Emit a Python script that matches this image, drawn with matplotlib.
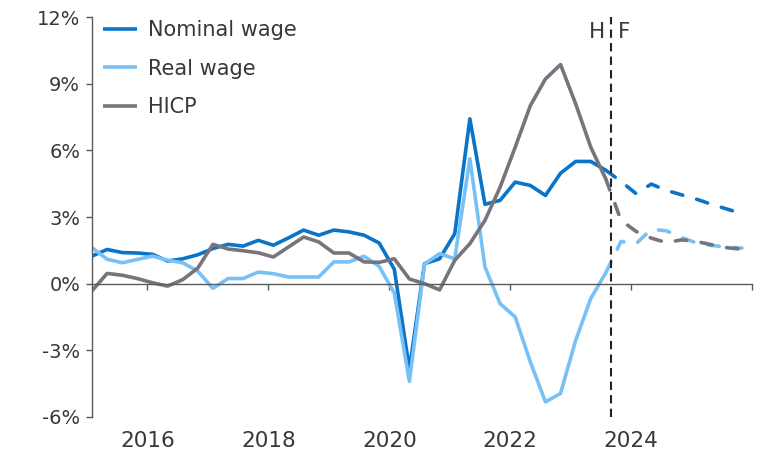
import numpy as np
import pandas as pd
import matplotlib
matplotlib.use("Agg")
import matplotlib.pyplot as plt
import matplotlib.ticker as ticker
import matplotlib.transforms as mtransforms

# Wage growth vs inflation, % y/y, quarterly 2015Q1-2025Q4
# history to 2023Q3, forecast from there on

QUARTERS = pd.period_range("2015Q1", "2025Q4", freq="Q")
LAST_HIST = "2023Q3"

nominal_hist = [1.24, 1.54, 1.40, 1.38, 1.32, 1.02, 1.12, 1.30, 1.58, 1.77,
                1.69, 1.95, 1.73, 2.06, 2.41, 2.18, 2.41, 2.33, 2.18, 1.83,
                0.65, -3.85, 0.90, 1.12, 2.25, 7.42, 3.57, 3.75, 4.57, 4.42,
                3.97, 4.97, 5.50, 5.50, 5.10]
real_hist = [1.62, 1.10, 0.94, 1.09, 1.24, 1.06, 0.94, 0.56, -0.21, 0.23,
             0.23, 0.52, 0.45, 0.30, 0.30, 0.30, 0.98, 0.98, 1.23, 0.78,
             -0.42, -4.40, 0.88, 1.35, 1.12, 5.62, 0.75, -0.90, -1.50, -3.52,
             -5.32, -4.94, -2.55, -0.67, 0.50]
hicp_hist = [-0.32, 0.46, 0.38, 0.23, 0.04, -0.11, 0.18, 0.70, 1.77, 1.56,
             1.48, 1.39, 1.20, 1.65, 2.10, 1.88, 1.38, 1.38, 0.98, 0.96,
             1.12, 0.21, 0.00, -0.28, 1.05, 1.80, 2.85, 4.34, 6.14, 8.01,
             9.21, 9.86, 8.09, 6.14, 4.70]

# forecast starts at the last historical quarter
nominal_fcst = [5.10, 4.60, 4.05, 4.48, 4.20, 4.00, 3.80, 3.57, 3.36, 3.15]
real_fcst = [0.50, 1.90, 1.80, 2.45, 2.38, 2.08, 1.83, 1.72, 1.65, 1.60]
hicp_fcst = [4.70, 2.85, 2.35, 2.05, 1.85, 1.97, 1.90, 1.75, 1.62, 1.55]

SERIES = [
    ("Nominal wage", nominal_hist, nominal_fcst, "#0a74c8"),
    ("Real wage", real_hist, real_fcst, "#77c1f6"),
    ("HICP", hicp_hist, hicp_fcst, "#76757d"),
]

YTICKS = [-6, -3, 0, 3, 6, 9, 12]
XTICK_YEARS = [2016, 2018, 2020, 2022, 2024, 2026]
XTICK_LABELS = ["2016", "2018", "2020", "2022", "2024", ""]
SPLIT_YEAR = 2023.667

TEXT = "#383838"
AXIS = "#5a5a5a"


def quarter_pos(periods):
    # quarterly points sit on the middle month of each quarter
    return np.array([p.year + (p.quarter - 1) / 4 + 1 / 12 for p in periods])


t = quarter_pos(QUARTERS)
n_hist = list(QUARTERS).index(pd.Period(LAST_HIST, freq="Q")) + 1
t_hist = t[:n_hist]
t_fcst = t[n_hist - 1:]

fig = plt.figure(figsize=(7.59, 4.53), dpi=100)
ax = fig.add_axes([92 / 759, 1 - 417 / 453, (752 - 92) / 759, 400 / 453])

for name, hist, fcst, color in SERIES:
    ax.plot(t_hist, hist, color=color, lw=2.6, label=name,
            solid_joinstyle="round", solid_capstyle="butt")
    ax.plot(t_fcst, fcst, color=color, lw=2.6, ls=(0, (3.2, 4.0)),
            dash_capstyle="round", dash_joinstyle="round")

ax.axvline(SPLIT_YEAR, color="#222222", lw=1.5, ls=(0, (4, 2.5)), zorder=5)

blend = mtransforms.blended_transform_factory(ax.transData, ax.transAxes)
ax.annotate("H", (SPLIT_YEAR, 1.0), xycoords=blend, xytext=(-4, -11),
            textcoords="offset points", ha="right", va="center",
            fontsize=15.5, color=TEXT)
ax.annotate("F", (SPLIT_YEAR, 1.0), xycoords=blend, xytext=(5, -11),
            textcoords="offset points", ha="left", va="center",
            fontsize=15.5, color=TEXT)

ax.set_xlim(t[0], 2026.0)
ax.set_ylim(-6, 12)

ax.set_yticks(YTICKS)
ax.yaxis.set_major_formatter(ticker.FuncFormatter(lambda v, _: f"{v:.0f}%"))
ax.tick_params(axis="y", direction="out", length=4.5, width=1, color=AXIS,
               labelsize=14, labelcolor=TEXT, pad=4)

# x axis line sits on zero, labels along the bottom
ax.spines["bottom"].set_position(("data", 0))
ax.set_xticks(XTICK_YEARS)
ax.set_xticklabels([])
ax.tick_params(axis="x", direction="out", length=4.5, width=1, color=AXIS)

sec = ax.secondary_xaxis(0)
sec.set_xticks(XTICK_YEARS)
sec.set_xticklabels(XTICK_LABELS)
sec.tick_params(length=0, labelsize=15.5, labelcolor=TEXT, pad=10)
sec.spines["bottom"].set_visible(False)

for side in ["top", "right"]:
    ax.spines[side].set_visible(False)
for side in ["left", "bottom"]:
    ax.spines[side].set_color(AXIS)
    ax.spines[side].set_linewidth(1)

leg = ax.legend(loc="upper left", bbox_to_anchor=(0.017, 0.993), frameon=False,
                fontsize=15, handlelength=1.6, handletextpad=0.55,
                labelspacing=0.9, borderpad=0, borderaxespad=0)
for txt in leg.get_texts():
    txt.set_color(TEXT)

fig.savefig("out.png", dpi=100)
